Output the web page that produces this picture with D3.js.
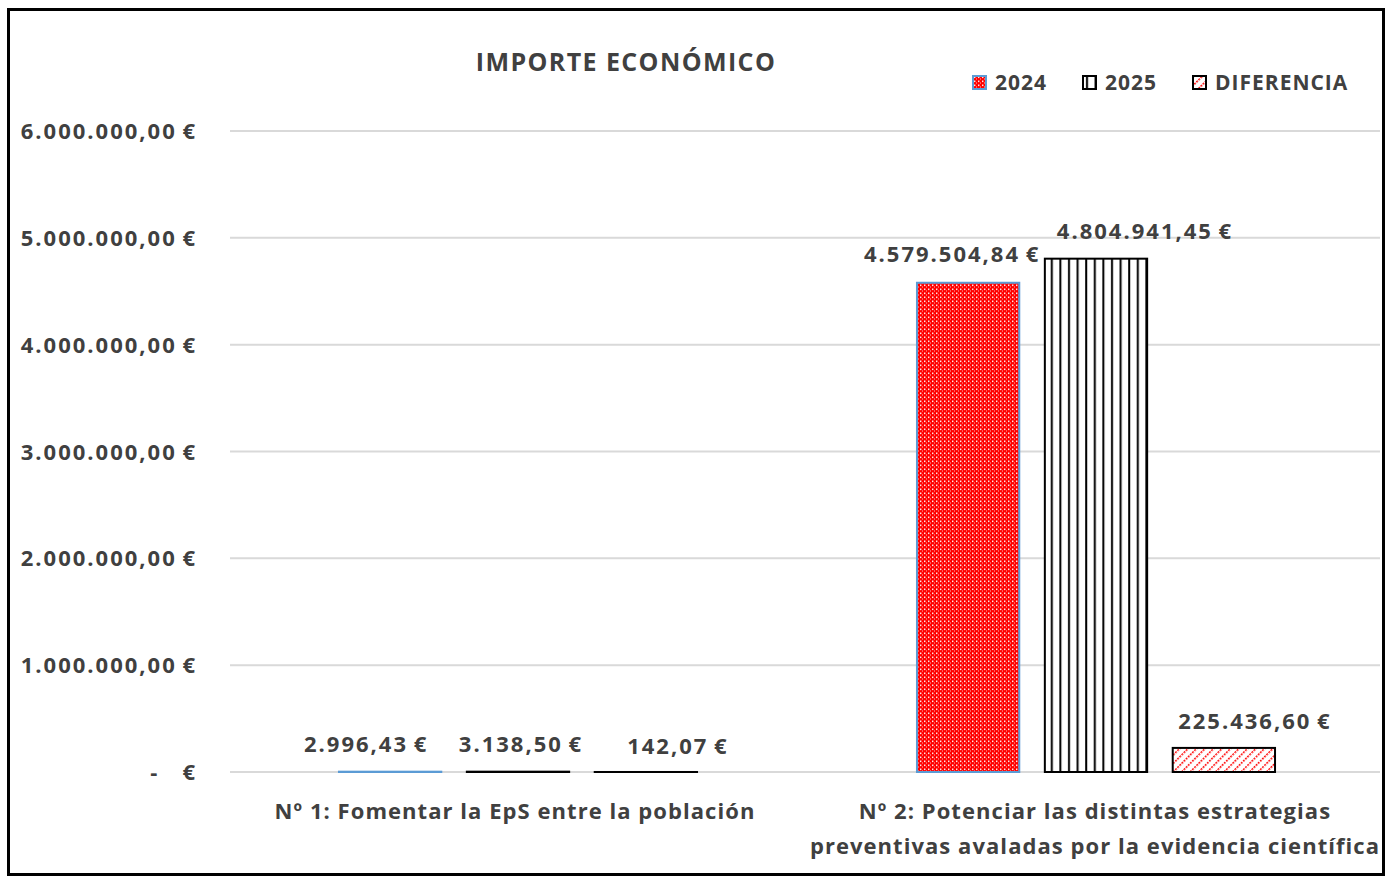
<!DOCTYPE html>
<html lang="es">
<head>
    <meta charset="UTF-8">
    <title>Importe económico</title>
    <script src="https://d3js.org/d3.v7.min.js"></script>
    <style>
        body { margin: 0; background: #fff; }
        svg text {
            font-family: "Open Sans", sans-serif;
            font-weight: bold;
            fill: #404040;
        }
    </style>
</head>
<body>
    <svg></svg>
    <script>
        // data
        const categories = [
            ["Nº 1: Fomentar la EpS entre la población"],
            ["Nº 2: Potenciar las distintas estrategias", "preventivas avaladas por la evidencia científica"]
        ];
        const series = ["2024", "2025", "DIFERENCIA"];
        const values2024 = [2996.43, 4579504.84];
        const values2025 = [3138.50, 4804941.45];
        const valuesDif = [142.07, 225436.60];
        const yTicks = [0, 1000000, 2000000, 3000000, 4000000, 5000000, 6000000];

        const W = 1391, H = 877;
        const svg = d3.select("svg").attr("width", W).attr("height", H);

        // labels were moved by hand in the original, so nudge them a bit
        const labelDx = [[-24, 3, 32], [-16, 49, 31]];
        const labelDy = [[-20, -20, -18], [-21, -20, -19]];

        const defs = svg.append("defs");

        // 2024: red with small white dots
        const p1 = defs.append("pattern").attr("id", "p2024")
            .attr("patternUnits", "userSpaceOnUse").attr("width", 4).attr("height", 4);
        p1.append("rect").attr("width", 4).attr("height", 4).attr("fill", "#ff0000");
        p1.append("rect").attr("x", 1).attr("y", 0.5).attr("width", 1.4).attr("height", 1.6).attr("fill", "#ffe6e6");
        p1.append("rect").attr("x", 3).attr("y", 2.5).attr("width", 1).attr("height", 1).attr("fill", "#ffb8b8");

        // 2025: vertical black stripes
        const p2 = defs.append("pattern").attr("id", "p2025")
            .attr("patternUnits", "userSpaceOnUse").attr("width", 8.6).attr("height", 10);
        p2.append("rect").attr("width", 8.6).attr("height", 10).attr("fill", "#fff");
        p2.append("rect").attr("x", 3).attr("width", 2).attr("height", 10).attr("fill", "#000");

        // diferencia: red dotted diagonals
        const p3 = defs.append("pattern").attr("id", "pDif")
            .attr("patternUnits", "userSpaceOnUse").attr("width", 6).attr("height", 6)
            .attr("patternTransform", "rotate(45)");
        p3.append("rect").attr("width", 6).attr("height", 6).attr("fill", "#fff");
        p3.append("line").attr("x1", 0).attr("y1", 0).attr("x2", 0).attr("y2", 6)
            .attr("stroke", "#ff0000").attr("stroke-width", 3).attr("stroke-dasharray", "2,1");

        const fills = { "2024": "url(#p2024)", "2025": "url(#p2025)", "DIFERENCIA": "url(#pDif)" };
        const strokes = { "2024": "#5b9bd5", "2025": "#000", "DIFERENCIA": "#000" };

        const x0 = d3.scaleBand().domain(d3.range(categories.length))
            .range([229, 1385]).paddingInner(0).paddingOuter(0);
        const x1 = d3.scaleBand().domain(series)
            .range([0, x0.bandwidth()]).paddingInner(0.2).paddingOuter(0.86);
        const y = d3.scaleLinear().domain([0, 6000000]).range([772, 131]);

        const fmt = d3.formatLocale({ decimal: ",", thousands: ".", grouping: [3], currency: ["", "€"] });
        const money = v => fmt.format(",.2f")(v) + "\u2009€";

        // frame
        svg.append("rect").attr("x", 8.5).attr("y", 9.5).attr("width", 1375).attr("height", 865)
            .attr("fill", "#fff").attr("stroke", "#000").attr("stroke-width", 3);

        // gridlines + y labels
        svg.append("g").selectAll("line").data(yTicks).join("line")
            .attr("x1", 230).attr("x2", 1380)
            .attr("y1", d => y(d)).attr("y2", d => y(d))
            .attr("stroke", "#d9d9d9").attr("stroke-width", 2);

        svg.append("g").selectAll("text").data(yTicks).join("text")
            .attr("x", 197).attr("y", d => y(d) + 8)
            .attr("text-anchor", "end")
            .style("font-size", "22px").style("letter-spacing", "2px")
            .style("white-space", "pre")
            .text(d => d === 0 ? "-   €" : money(d));

        // bars
        const rows = categories.map((c, i) => series.map((s, j) => ({
            cat: i, s: s, j: j,
            v: [values2024, values2025, valuesDif][j][i]
        })));

        const g = svg.append("g").selectAll("g").data(rows).join("g")
            .attr("transform", (d, i) => `translate(${x0(i)},0)`);

        g.selectAll("rect").data(d => d).join("rect")
            .attr("x", d => x1(d.s))
            .attr("y", d => y(d.v))
            .attr("width", x1.bandwidth())
            .attr("height", d => y(0) - y(d.v))
            .attr("fill", d => fills[d.s])
            .attr("stroke", d => strokes[d.s])
            .attr("stroke-width", 2);

        g.selectAll("text").data(d => d).join("text")
            .attr("x", d => x1(d.s) + x1.bandwidth() / 2 + labelDx[d.cat][d.j])
            .attr("y", d => y(d.v) + labelDy[d.cat][d.j])
            .attr("text-anchor", "middle")
            .style("font-size", "22px").style("letter-spacing", "2px")
            .text(d => money(d.v));

        // category labels
        svg.append("g").selectAll("text").data(categories).join("text")
            .attr("x", (d, i) => x0(i) + x0.bandwidth() / 2 - (i === 0 ? 3 : 1))
            .attr("y", 819)
            .attr("text-anchor", "middle")
            .style("font-size", "22px").style("letter-spacing", "1.05px")
            .selectAll("tspan").data(d => d).join("tspan")
            .attr("x", function () { return this.parentNode.getAttribute("x"); })
            .attr("dy", (d, k) => k === 0 ? 0 : 35)
            .text(d => d);

        // title
        svg.append("text").attr("x", 626).attr("y", 71)
            .attr("text-anchor", "middle")
            .style("font-size", "25px").style("letter-spacing", "1.4px")
            .text("IMPORTE ECONÓMICO");

        // legend
        const legX = [973, 1083, 1193];
        const leg = svg.append("g").selectAll("g").data(series).join("g")
            .attr("transform", (d, i) => `translate(${legX[i]},76)`);
        leg.append("rect").attr("width", 13).attr("height", 13)
            .attr("fill", d => fills[d]).attr("stroke", d => strokes[d]).attr("stroke-width", 2);
        leg.append("text").attr("x", 22).attr("y", 14)
            .style("font-size", "21px").style("letter-spacing", "1px")
            .text(d => d);
    </script>
</body>
</html>
